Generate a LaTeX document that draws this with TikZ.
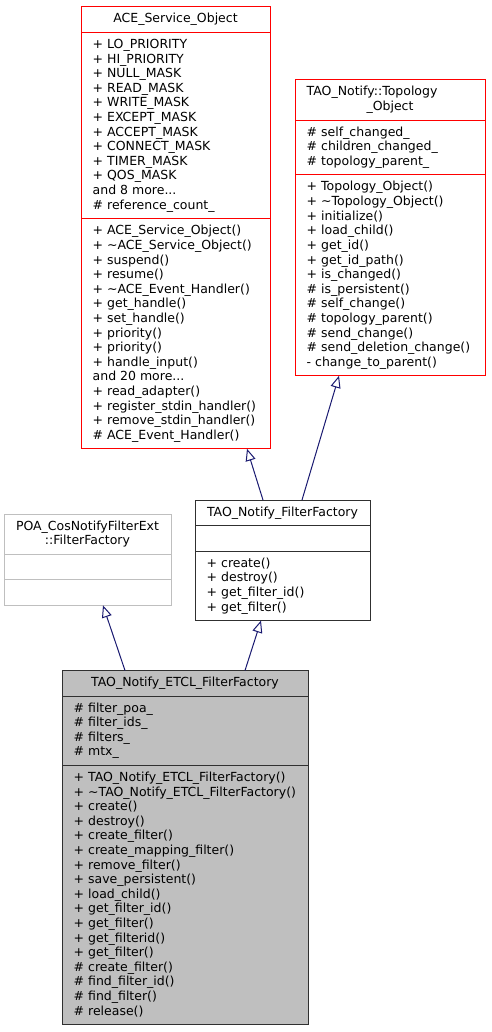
\documentclass[tikz,border=0pt]{standalone}
\usepackage{fontspec}
\setmainfont{DejaVu Sans}
\usetikzlibrary{arrows.meta,calc}
\definecolor{edgeblue}{RGB}{25,25,112}
\definecolor{boxgrey}{RGB}{191,191,191}
\definecolor{boxdark}{RGB}{48,48,48}
\newcommand\tdots{...}
\newcommand\fieldlines[4]{\foreach \t [count=\i from 0] in {#4} {\node[txt] (#1-\i) at (#2,#3+\i*14.6) {\t};}}
\begin{document}
\begin{tikzpicture}[x=1pt,y=-1pt,
  txt/.style={anchor=base west, inner sep=0pt, font=\fontsize{12.5}{14.6}\selectfont},
  ttl/.style={anchor=base, inner sep=0pt, font=\fontsize{12.5}{14.6}\selectfont},
  cls/.style={draw, line width=1pt, anchor=north west, inner sep=0pt, outer sep=0pt, rectangle},
  sep/.style={line width=1pt},
  inh/.style={draw=edgeblue, line width=1pt, -{Triangle[open,length=12pt,width=10pt]}}
]
\useasboundingbox (0,0) rectangle (491,1032);

% ACE_Service_Object
\node[cls, draw=red, minimum width=189pt, minimum height=441.8pt] (ace) at (81,7) {};
\draw[sep, red] ($(ace.north west)+(0,25.6)$) -- ($(ace.north east)+(0,25.6)$);
\draw[sep, red] ($(ace.north west)+(0,211.8)$) -- ($(ace.north east)+(0,211.8)$);
\node[ttl] (ace-t) at (175.5,23) {ACE\_Service\_Object};
\fieldlines{acea}{92.5}{48.6}{+ LO\_PRIORITY, + HI\_PRIORITY, + NULL\_MASK, + READ\_MASK, + WRITE\_MASK, + EXCEPT\_MASK, + ACCEPT\_MASK, + CONNECT\_MASK, + TIMER\_MASK, + QOS\_MASK, and 8 more\tdots, \# reference\_count\_}
\fieldlines{acem}{92.5}{234.8}{+ ACE\_Service\_Object(), + \textasciitilde ACE\_Service\_Object(), + suspend(), + resume(), + \textasciitilde ACE\_Event\_Handler(), + get\_handle(), + set\_handle(), + priority(), + priority(), + handle\_input(), and 20 more\tdots, + read\_adapter(), + register\_stdin\_handler(), + remove\_stdin\_handler(), \# ACE\_Event\_Handler()}

% TAO_Notify::Topology_Object
\node[cls, draw=red, minimum width=190pt, minimum height=295.8pt] (topo) at (295,80) {};
\draw[sep, red] ($(topo.north west)+(0,40.2)$) -- ($(topo.north east)+(0,40.2)$);
\draw[sep, red] ($(topo.north west)+(0,95)$) -- ($(topo.north east)+(0,95)$);
\node[txt] (topo-t1) at (306.5,96) {TAO\_Notify::Topology};
\node[ttl] (topo-t2) at (390,110.6) {\_Object};
\fieldlines{topoa}{306.5}{136.2}{\# self\_changed\_, \# children\_changed\_, \# topology\_parent\_}
\fieldlines{topom}{306.5}{191}{+ Topology\_Object(), + \textasciitilde Topology\_Object(), + initialize(), + load\_child(), + get\_id(), + get\_id\_path(), + is\_changed(), \# is\_persistent(), \# self\_change(), \# topology\_parent(), \# send\_change(), \# send\_deletion\_change(), - change\_to\_parent()}

% TAO_Notify_FilterFactory
\node[cls, draw=boxdark, minimum width=175pt, minimum height=120.6pt] (ff) at (195,500) {};
\draw[sep, boxdark] ($(ff.north west)+(0,25.6)$) -- ($(ff.north east)+(0,25.6)$);
\draw[sep, boxdark] ($(ff.north west)+(0,51.2)$) -- ($(ff.north east)+(0,51.2)$);
\node[ttl] (ff-t) at (282.5,516) {TAO\_Notify\_FilterFactory};
\fieldlines{ffm}{206.5}{567.2}{+ create(), + destroy(), + get\_filter\_id(), + get\_filter()}

% POA_CosNotifyFilterExt::FilterFactory
\node[cls, draw=boxgrey, minimum width=167pt, minimum height=91.4pt] (poa) at (4,514) {};
\draw[sep, boxgrey] ($(poa.north west)+(0,40.2)$) -- ($(poa.north east)+(0,40.2)$);
\draw[sep, boxgrey] ($(poa.north west)+(0,65.8)$) -- ($(poa.north east)+(0,65.8)$);
\node[ttl] (poa-t1) at (87.5,530) {POA\_CosNotifyFilterExt};
\node[ttl] (poa-t2) at (87.5,544.6) {::FilterFactory};

% TAO_Notify_ETCL_FilterFactory
\node[cls, draw=boxdark, fill=boxgrey, minimum width=246pt, minimum height=354.2pt] (etcl) at (62,670.5) {};
\draw[sep, boxdark] ($(etcl.north west)+(0,25.6)$) -- ($(etcl.north east)+(0,25.6)$);
\draw[sep, boxdark] ($(etcl.north west)+(0,95)$) -- ($(etcl.north east)+(0,95)$);
\node[ttl] (etcl-t) at (185,686.5) {TAO\_Notify\_ETCL\_FilterFactory};
\fieldlines{etcla}{73.5}{712.1}{\# filter\_poa\_, \# filter\_ids\_, \# filters\_, \# mtx\_}
\fieldlines{etclm}{73.5}{781.5}{+ TAO\_Notify\_ETCL\_FilterFactory(), + \textasciitilde TAO\_Notify\_ETCL\_FilterFactory(), + create(), + destroy(), + create\_filter(), + create\_mapping\_filter(), + remove\_filter(), + save\_persistent(), + load\_child(), + get\_filter\_id(), + get\_filter(), + get\_filterid(), + get\_filter(), \# create\_filter(), \# find\_filter\_id(), \# find\_filter(), \# release()}

% inheritance edges
\draw[inh] ($(etcl.north west)+(63,0)$) -- ($(poa.south west)+(99,0)$);
\draw[inh] ($(etcl.north west)+(183,0)$) -- ($(ff.south west)+(66,0)$);
\draw[inh] ($(ff.north west)+(68,0)$) -- ($(ace.south west)+(166,0)$);
\draw[inh] ($(ff.north west)+(107,0)$) -- ($(topo.south west)+(44,0)$);
\end{tikzpicture}
\end{document}
